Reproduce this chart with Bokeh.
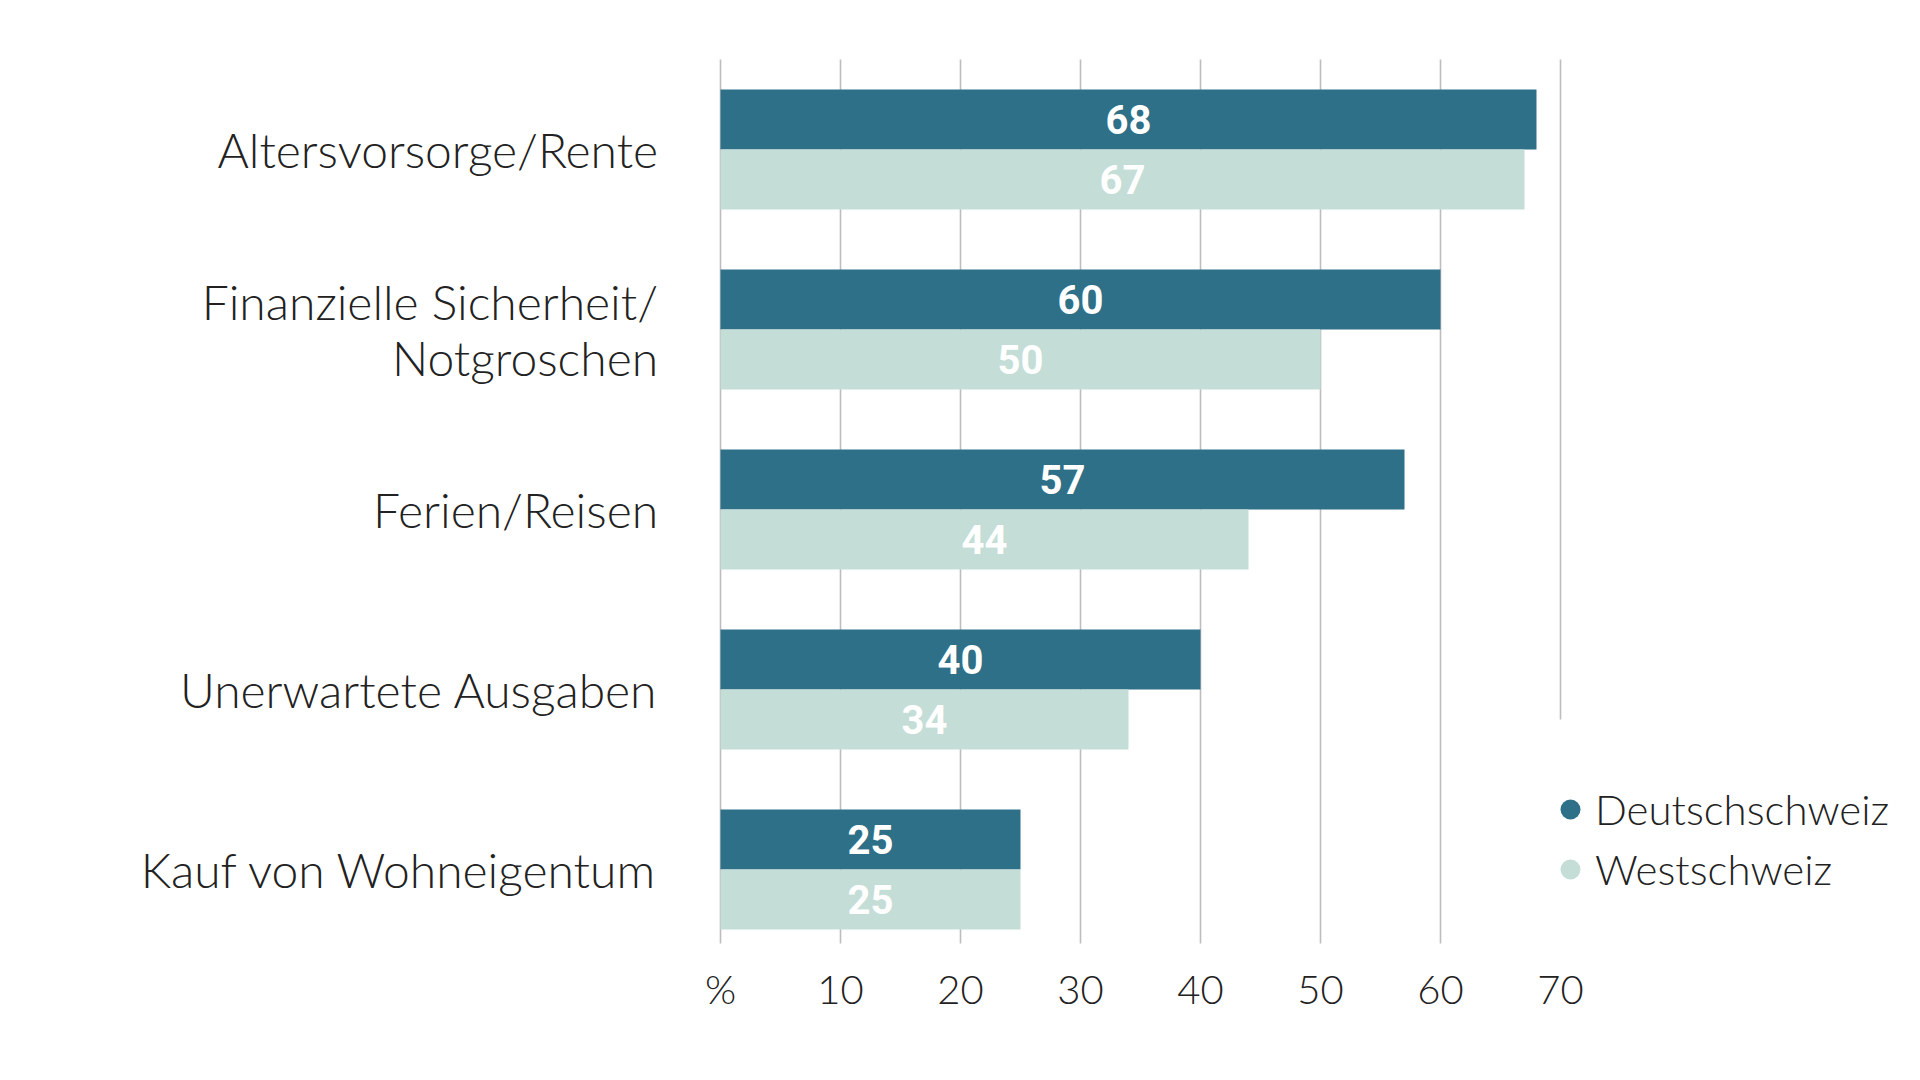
from bokeh.plotting import figure
from bokeh.models import (Range1d, ColumnDataSource, FixedTicker, Legend, LegendItem)
from bokeh.core.properties import value
from bokeh.embed import file_html
from bokeh.resources import INLINE

# --- data -------------------------------------------------------------
categories = [
    "Altersvorsorge/Rente",
    "Finanzielle Sicherheit/\nNotgroschen",
    "Ferien/Reisen",
    "Unerwartete Ausgaben",
    "Kauf von Wohneigentum",
]
deutschschweiz = [68, 60, 57, 40, 25]
westschweiz = [67, 50, 44, 34, 25]
series_names = ["Deutschschweiz", "Westschweiz"]
x_ticks = [0, 10, 20, 30, 40, 50, 60, 70]
x_tick_labels = ["%", "10", "20", "30", "40", "50", "60", "70"]

# --- style ------------------------------------------------------------
DARK = "#2E7087"
LIGHT = "#C4DDD7"
GRID = "#BDBDBD"
INK = "#222222"
FONT = "'Lato Light', Lato"

W, H = 1920, 1080
BAR_H = 1 / 3  # each bar is a third of a category slot

p = figure(
    width=W, height=H,
    x_range=Range1d(-60, 100),
    y_range=Range1d(4.45, -0.8278),
    output_backend="svg", toolbar_location=None,
    y_axis_location=None,
    min_border_left=0, min_border_right=0,
    min_border_top=0, min_border_bottom=130,
)
p.outline_line_color = None
p.grid.visible = False
p.background_fill_color = "white"
p.border_fill_color = "white"

idx = list(range(len(categories)))

# vertical reference lines; the last one stops above the legend
grid_x = x_ticks
grid_top = [-0.5] * len(grid_x)
grid_bottom = [4.411] * (len(grid_x) - 1) + [3.167]
p.segment(x0=grid_x, x1=grid_x, y0=grid_top, y1=grid_bottom,
          line_color=GRID, line_width=1.6)

dark_src = ColumnDataSource(dict(
    y=[i - BAR_H / 2 for i in idx], v=deutschschweiz,
    mid=[v / 2 for v in deutschschweiz], lab=[str(v) for v in deutschschweiz]))
light_src = ColumnDataSource(dict(
    y=[i + BAR_H / 2 for i in idx], v=westschweiz,
    mid=[v / 2 for v in westschweiz], lab=[str(v) for v in westschweiz]))

p.hbar(y="y", left=0, right="v", height=BAR_H, source=dark_src,
       fill_color=DARK, line_color=None)
p.hbar(y="y", left=0, right="v", height=BAR_H, source=light_src,
       fill_color=LIGHT, line_color=None)

for src in (dark_src, light_src):
    p.text(x="mid", y="y", text="lab", source=src,
           text_font=value("Roboto"), text_font_style="bold",
           text_font_size="40px", text_color="white",
           text_align="center", text_baseline="middle")

# category names, right-aligned left of the bars
cat_src = ColumnDataSource(dict(x=[-5.2] * len(categories), y=idx, t=categories))
p.text(x="x", y="y", text="t", source=cat_src,
       text_font=value(FONT), text_font_size="48px", text_color=INK,
       text_align="right", text_baseline="middle", text_line_height=0.97)

# x axis: labels only
ax = p.xaxis[0]
ax.ticker = FixedTicker(ticks=x_ticks)
ax.major_label_overrides = {t: l for t, l in zip(x_ticks, x_tick_labels)}
ax.axis_line_color = None
ax.major_tick_line_color = None
ax.minor_tick_line_color = None
ax.major_tick_out = 0
ax.major_label_standoff = 14
ax.major_label_text_font = FONT
ax.major_label_text_font_size = "40px"
ax.major_label_text_color = INK

# legend with round markers (marker renderers sit far outside the visible range)
legend_src = ColumnDataSource(dict(x=[-1000], y=[-1000]))
d_dot = p.scatter(x="x", y="y", source=legend_src, marker="circle", size=20,
                  fill_color=DARK, line_color=None)
l_dot = p.scatter(x="x", y="y", source=legend_src, marker="circle", size=20,
                  fill_color=LIGHT, line_color=None)
legend = Legend(
    items=[LegendItem(label=series_names[0], renderers=[d_dot]),
           LegendItem(label=series_names[1], renderers=[l_dot])],
    location=(1545, 56),
    orientation="vertical",
    glyph_width=50, glyph_height=50,
    label_standoff=0, spacing=10, padding=0, margin=0,
    label_text_font=FONT, label_text_font_size="42px", label_text_color=INK,
    border_line_color=None, background_fill_alpha=0,
)
p.add_layout(legend, "center")

open("out.html", "w").write(file_html(p, INLINE))
